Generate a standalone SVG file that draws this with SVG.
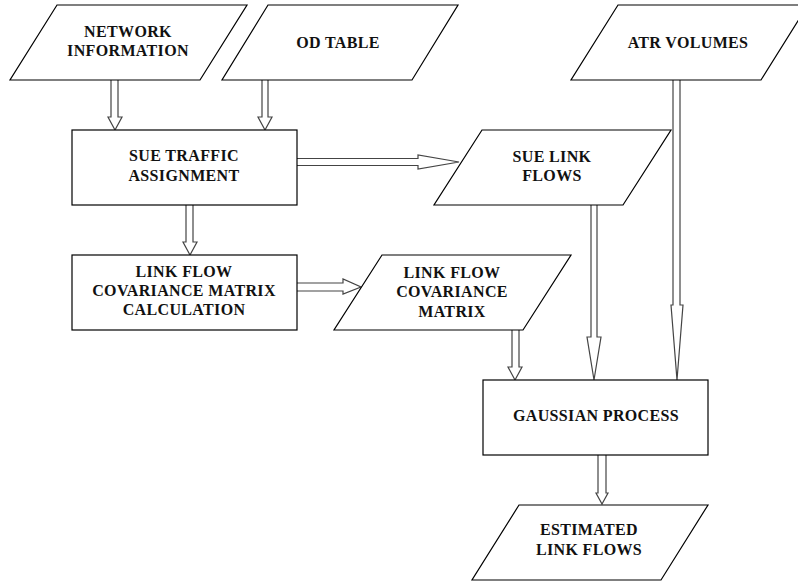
<svg xmlns="http://www.w3.org/2000/svg" width="798" height="581" viewBox="0 0 798 581">
<style>
.shape{fill:#fff;stroke:#000;stroke-width:1.2}
.arr{fill:#fff;stroke:#444;stroke-width:1.2;stroke-linejoin:miter}
text{font-family:"Liberation Serif","Times New Roman",serif;font-weight:bold;font-size:16px;fill:#111;text-anchor:middle;letter-spacing:0.35px}
</style>
<rect width="798" height="581" fill="#fff"/>
<g id="connectors">
<path class="arr" d="M111,80 V117 H108 L115,130 L122,117 H118 V80"/>
<path class="arr" d="M262,80 V117 H258 L265,130 L272,117 H268 V80"/>
<path class="arr" d="M297,158.5 H418 V155 L459,162 L418,169 V165.5 H297"/>
<path class="arr" d="M186,205 V242 H183 L190,255 L197,242 H193 V205"/>
<path class="arr" d="M297,283 H343 V279 L361,287 L343,294 V291 H297"/>
<path class="arr" d="M512,330 V367 H508 L515,380 L522,367 H519 V330"/>
<path class="arr" d="M591,205 V337 H587 L594,380 L601,337 H597 V205"/>
<path class="arr" d="M673,80 V305 H671 L677,380 L683,305 H680 V80"/>
<path class="arr" d="M598,455 V493 H596 L602,504 L608,493 H606 V455"/>
</g>
<g id="network-information">
<polygon class="shape" points="57,5 247,5 200,80 10,80"/>
<text x="128" y="37">NETWORK</text>
<text x="128" y="56">INFORMATION</text>
</g>
<g id="od-table">
<polygon class="shape" points="268,5 458,5 412,80 222,80"/>
<text x="338" y="48">OD TABLE</text>
</g>
<g id="atr-volumes">
<polygon class="shape" points="618,5 808,5 761,80 571,80"/>
<text x="688" y="48">ATR VOLUMES</text>
</g>
<g id="sue-traffic-assignment">
<rect class="shape" x="72" y="130" width="225" height="75"/>
<text x="184" y="161">SUE TRAFFIC</text>
<text x="184" y="181">ASSIGNMENT</text>
</g>
<g id="sue-link-flows">
<polygon class="shape" points="482,130 671,130 623,205 434,205"/>
<text x="552" y="162">SUE LINK</text>
<text x="552" y="181">FLOWS</text>
</g>
<g id="link-flow-covariance-calculation">
<rect class="shape" x="72" y="255" width="225" height="75"/>
<text x="184" y="277">LINK FLOW</text>
<text x="184" y="296">COVARIANCE MATRIX</text>
<text x="184" y="315">CALCULATION</text>
</g>
<g id="link-flow-covariance-matrix">
<polygon class="shape" points="382,255 571,255 523,330 334,330"/>
<text x="452" y="278">LINK FLOW</text>
<text x="452" y="297">COVARIANCE</text>
<text x="452" y="317">MATRIX</text>
</g>
<g id="gaussian-process">
<rect class="shape" x="483" y="380" width="225" height="75"/>
<text x="596" y="421">GAUSSIAN PROCESS</text>
</g>
<g id="estimated-link-flows">
<polygon class="shape" points="519,505 708,505 661,580 472,580"/>
<text x="589" y="535">ESTIMATED</text>
<text x="589" y="555">LINK FLOWS</text>
</g>
</svg>
